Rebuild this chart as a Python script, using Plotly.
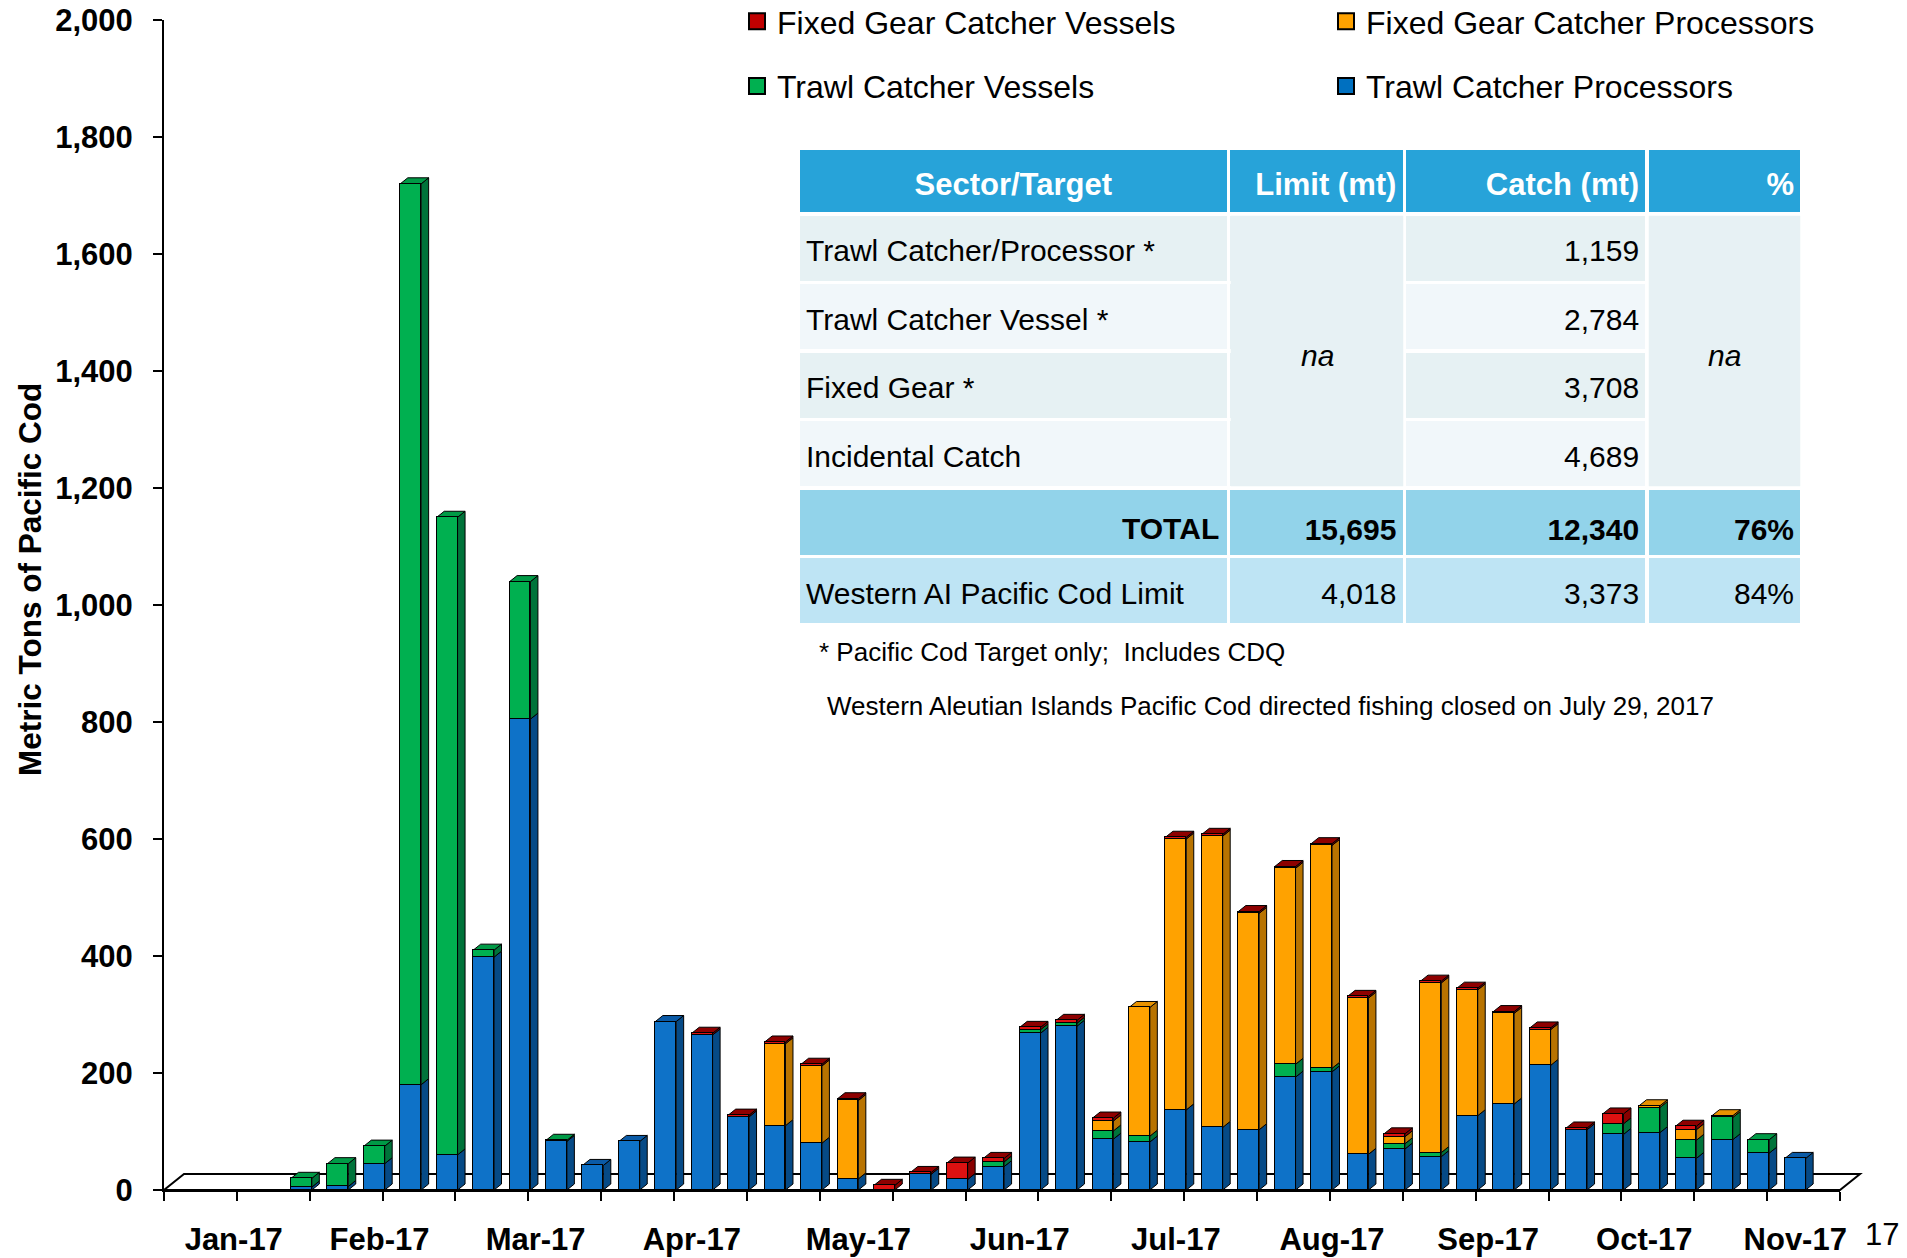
import plotly.graph_objects as go

# ---------------- data ----------------
WEEK_ENDING = [
    "2017-01-14", "2017-01-21", "2017-01-28", "2017-02-04", "2017-02-11", "2017-02-18",
    "2017-02-25", "2017-03-04", "2017-03-11", "2017-03-18", "2017-03-25", "2017-04-01",
    "2017-04-08", "2017-04-15", "2017-04-22", "2017-04-29", "2017-05-06", "2017-05-13",
    "2017-05-20", "2017-05-27", "2017-06-03", "2017-06-10", "2017-06-17", "2017-06-24",
    "2017-07-01", "2017-07-08", "2017-07-15", "2017-07-22", "2017-07-29", "2017-08-05",
    "2017-08-12", "2017-08-19", "2017-08-26", "2017-09-02", "2017-09-09", "2017-09-16",
    "2017-09-23", "2017-09-30", "2017-10-07", "2017-10-14", "2017-10-21", "2017-10-28",
]

TRAWL_CP = [5, 6, 45, 180, 60, 398, 805, 83, 42, 83, 288, 265, 125, 110, 80, 19, 0, 27,
            18, 40, 268, 280, 87, 82, 137, 107, 103, 193, 202, 61, 70, 57, 127, 147, 213,
            103, 95, 98, 54, 86, 63, 54]
TRAWL_CV = [15, 39, 30, 1540, 1090, 12, 235, 2, 0, 0, 0, 0, 0, 0, 0, 0, 0, 0,
            0, 8, 6, 5, 14, 10, 0, 0, 0, 22, 6, 0, 9, 7, 0, 0, 0,
            0, 18, 43, 31, 38, 23, 0]
FIXED_CP = [0, 0, 0, 0, 0, 0, 0, 0, 0, 0, 0, 0, 0, 140, 132, 134, 0, 0,
            0, 0, 0, 0, 17, 220, 463, 498, 370, 335, 381, 267, 12, 290, 215, 155, 61,
            0, 0, 3, 18, 3, 0, 0]
FIXED_CV = [0, 0, 0, 0, 0, 0, 0, 0, 0, 0, 0, 3, 3, 3, 3, 3, 8, 3,
            28, 6, 4, 5, 5, 0, 3, 3, 3, 3, 3, 3, 5, 3, 3, 3, 3,
            3, 17, 0, 6, 0, 0, 0]

MONTH_LABELS = ["Jan-17", "Feb-17", "Mar-17", "Apr-17", "May-17", "Jun-17",
                "Jul-17", "Aug-17", "Sep-17", "Oct-17", "Nov-17"]
MONTH_LABEL_DATES = ["2017-01-01", "2017-01-29", "2017-02-28", "2017-03-30", "2017-05-01",
                     "2017-06-01", "2017-07-01", "2017-07-31", "2017-08-30", "2017-09-29",
                     "2017-10-28"]

TABLE_HEADER = ["Sector/Target", "Limit (mt)", "Catch (mt)", "%"]
SECTORS = ["Trawl Catcher/Processor *", "Trawl Catcher Vessel *", "Fixed Gear *",
           "Incidental Catch", "TOTAL", "Western AI Pacific Cod Limit"]
LIMITS = ["", "", "", "", "15,695", "4,018"]
CATCHES = ["1,159", "2,784", "3,708", "4,689", "12,340", "3,373"]
PCTS = ["", "", "", "", "76%", "84%"]
MERGED_TEXT = "na"
TOTAL_ROW = 4

FOOTNOTE_1 = "* Pacific Cod Target only;  Includes CDQ"
FOOTNOTE_2 = "Western Aleutian Islands Pacific Cod directed fishing closed on July 29, 2017"

# ---------------- layout constants (pixels) ----------------
FIG_W, FIG_H = 1907, 1258
# reference frame used for the positions below
L, R, T, B = 164, 1840, 22, 1192
W, H = R - L, B - T
# actual placement of the plot area
SHIFT_X, SHIFT_Y = -8, -10
FONT = "Liberation Sans, Arial, sans-serif"


def px2x(px):
    return (px - L) / W


def px2y(py):
    return (B - py) / H


DAY_MS = 86400000
BAR_W_DAYS = 4.0
PX_PER_DAY = W / 322.0
HW = BAR_W_DAYS * PX_PER_DAY / 2
DX = 7.5
DY_UNITS = 6.0 * 2000 / H

SERIES = [
    ("Trawl Catcher Processors", TRAWL_CP, "#0E72C8", "#064A86", "#0A5AA6"),
    ("Trawl Catcher Vessels", TRAWL_CV, "#00B050", "#00733A", "#009A46"),
    ("Fixed Gear Catcher Processors", FIXED_CP, "#FFA200", "#B87300", "#E89200"),
    ("Fixed Gear Catcher Vessels", FIXED_CV, "#DD1111", "#880000", "#8E0000"),
]
LEGEND_COLORS = {
    "Fixed Gear Catcher Vessels": "#C00000",
    "Trawl Catcher Vessels": "#00B050",
    "Fixed Gear Catcher Processors": "#FFA200",
    "Trawl Catcher Processors": "#0070C0",
}

fig = go.Figure()

for name, vals, front, side, top in SERIES:
    fig.add_trace(go.Bar(
        x=WEEK_ENDING,
        y=[v if v > 0 else None for v in vals],
        width=BAR_W_DAYS * DAY_MS,
        marker=dict(color=front, line=dict(color="black", width=1.3)),
        name=name,
        showlegend=False,
    ))

# legend entries (two columns)
for name, leg, rank in [("Fixed Gear Catcher Vessels", "legend", 1),
                        ("Trawl Catcher Vessels", "legend", 2),
                        ("Fixed Gear Catcher Processors", "legend2", 1),
                        ("Trawl Catcher Processors", "legend2", 2)]:
    fig.add_trace(go.Scatter(
        x=[None], y=[None], mode="markers", name=name, legend=leg, legendrank=rank,
        legendgroup=name,
        marker=dict(symbol="square", size=16, color=LEGEND_COLORS[name],
                    line=dict(color="black", width=2)),
    ))

# pseudo-3D faces, derived from the stacked values
shapes = []
FDX, FDY = 20.0 / W, 16.0 / H
shapes.append(dict(type="path", xref="paper", yref="paper",
                   path=f"M0,0 L1,0 L{1 + FDX},{FDY} L{FDX},{FDY} Z",
                   fillcolor="white", line=dict(color="black", width=2), layer="below"))
for i, d in enumerate(WEEK_ENDING):
    base = 0.0
    top_col = None
    for name, vals, front, side, top in SERIES:
        v = vals[i]
        if v > 0:
            y0, y1 = base, base + v
            shapes.append(dict(
                type="path", xref="x", yref="y", xsizemode="pixel", xanchor=d,
                path=(f"M{HW:.2f},{y0:.2f} L{HW + DX:.2f},{y0 + DY_UNITS:.2f} "
                      f"L{HW + DX:.2f},{y1 + DY_UNITS:.2f} L{HW:.2f},{y1:.2f} Z"),
                fillcolor=side, line=dict(color="black", width=1), layer="below"))
            base = y1
            top_col = top
    if base > 0:
        shapes.append(dict(
            type="path", xref="x", yref="y", xsizemode="pixel", xanchor=d,
            path=(f"M{-HW:.2f},{base:.2f} L{-HW + DX:.2f},{base + DY_UNITS:.2f} "
                  f"L{HW + DX:.2f},{base + DY_UNITS:.2f} L{HW:.2f},{base:.2f} Z"),
            fillcolor=top_col, line=dict(color="black", width=1), layer="below"))

# ---------------- table ----------------
TBL_L, TBL_R, TBL_T = 798, 1802, 150
HDR_H, ROW_H = 66, 68.5
COLW = [431, 176, 243, 155]
ODD, EVEN, MERGE = "#E6F1F3", "#F1F7FA", "#E7F1F4"
TOTAL_FILL, WEST_FILL, HDR_FILL = "#92D3EA", "#BEE4F4", "#27A3D9"
alt = [ODD, EVEN, ODD, EVEN, TOTAL_FILL, WEST_FILL]
merged = [MERGE] * 4 + [TOTAL_FILL, WEST_FILL]
fills = [alt, merged, alt, merged]
LW = 3.5
n_rows = len(SECTORS)
tbl_h = HDR_H + ROW_H * n_rows

fig.add_trace(go.Table(
    domain=dict(x=[px2x(TBL_L), px2x(TBL_R)], y=[px2y(TBL_T + tbl_h + 10), px2y(TBL_T)]),
    columnwidth=COLW,
    header=dict(values=["", "", "", ""], height=HDR_H, fill_color=HDR_FILL,
                line=dict(color="white", width=LW)),
    cells=dict(values=[[""] * n_rows] * 4, height=ROW_H, fill_color=fills,
               line=dict(color="white", width=LW)),
))

# merged cells (Limit and % columns of the four sector rows)
m_top = TBL_T + HDR_H + LW / 2
m_bot = TBL_T + HDR_H + 4 * ROW_H - LW / 2
for c0, c1 in [(TBL_L + COLW[0], TBL_L + COLW[0] + COLW[1]), (TBL_R - COLW[3], TBL_R)]:
    shapes.append(dict(type="rect", xref="paper", yref="paper",
                       x0=px2x(c0 + LW / 2), x1=px2x(c1 - LW / 2),
                       y0=px2y(m_bot), y1=px2y(m_top),
                       fillcolor=MERGE, line=dict(width=0), layer="above"))

TEXT_SHIFT = 10.5   # text layer offset so the labels sit mid-cell
HDR_EXTRA = 6.0


def bold(s):
    return f"<b>{s}</b>" if s else s


col0 = ["" if k == TOTAL_ROW else s for k, s in enumerate(SECTORS)]
col1 = [bold(s) if k == TOTAL_ROW else s for k, s in enumerate(LIMITS)]
col2 = [bold(s) if k == TOTAL_ROW else s for k, s in enumerate(CATCHES)]
col3 = [bold(s) if k == TOTAL_ROW else s for k, s in enumerate(PCTS)]
fig.add_trace(go.Table(
    domain=dict(x=[px2x(TBL_L), px2x(TBL_R)],
                y=[px2y(TBL_T + TEXT_SHIFT + tbl_h + 30), px2y(TBL_T + TEXT_SHIFT)]),
    columnwidth=COLW,
    header=dict(values=[bold(h) for h in TABLE_HEADER], height=HDR_H + HDR_EXTRA,
                fill_color="rgba(0,0,0,0)", line=dict(width=0),
                align=["center", "right", "right", "right"],
                font=dict(family=FONT, size=31, color="white")),
    cells=dict(values=[col0, col1, col2, col3], height=ROW_H,
               fill_color="rgba(0,0,0,0)", line=dict(width=0),
               align=["left", "right", "right", "right"],
               font=dict(family=FONT, size=30, color="black")),
))

merge_y = TBL_T + HDR_H + 2 * ROW_H
total_y = TBL_T + HDR_H + TOTAL_ROW * ROW_H + ROW_H / 2 + 6.5
annotations = [
    dict(text=bold(SECTORS[TOTAL_ROW]), xref="paper", yref="paper",
         x=px2x(TBL_L + COLW[0] - 8), y=px2y(total_y), showarrow=False,
         xanchor="right", yanchor="middle", font=dict(family=FONT, size=30, color="black")),
    dict(text=f"<i>{MERGED_TEXT}</i>", xref="paper", yref="paper",
         x=px2x(TBL_L + COLW[0] + COLW[1] / 2), y=px2y(merge_y + 4), showarrow=False,
         xanchor="center", yanchor="middle", font=dict(family=FONT, size=30, color="black")),
    dict(text=f"<i>{MERGED_TEXT}</i>", xref="paper", yref="paper",
         x=px2x(TBL_R - COLW[3] / 2), y=px2y(merge_y + 4), showarrow=False,
         xanchor="center", yanchor="middle", font=dict(family=FONT, size=30, color="black")),
    dict(text=FOOTNOTE_1, xref="paper", yref="paper", x=px2x(817), y=px2y(654),
         xanchor="left", yanchor="middle", showarrow=False,
         font=dict(family=FONT, size=26, color="black")),
    dict(text=FOOTNOTE_2, xref="paper", yref="paper", x=px2x(825), y=px2y(708),
         xanchor="left", yanchor="middle", showarrow=False,
         font=dict(family=FONT, size=26, color="black")),
    dict(text="<b>Metric Tons of Pacific Cod</b>", xref="paper", yref="paper",
         x=px2x(30), y=px2y(582), textangle=-90, xanchor="center", yanchor="middle",
         showarrow=False, font=dict(family=FONT, size=31.5, color="black")),
    dict(text="17", xref="paper", yref="paper", x=px2x(1882), y=px2y(1236),
         xanchor="center", yanchor="middle", showarrow=False,
         font=dict(family=FONT, size=31, color="black")),
]

fig.update_layout(
    width=FIG_W, height=FIG_H,
    margin=dict(l=L + SHIFT_X, r=FIG_W - R - SHIFT_X, t=T + SHIFT_Y, b=FIG_H - B - SHIFT_Y,
                autoexpand=False),
    paper_bgcolor="white", plot_bgcolor="white",
    barmode="stack", bargap=0,
    shapes=shapes, annotations=annotations,
    xaxis=dict(
        type="date", range=["2016-12-18 14:24:00", "2017-11-05 14:24:00"],
        showline=True, linecolor="black", linewidth=2, showgrid=False, zeroline=False,
        ticks="", tickmode="array", tickvals=MONTH_LABEL_DATES, ticktext=MONTH_LABELS,
        tickfont=dict(family=FONT, size=31, color="black", weight="bold"),
        ticklabelstandoff=21, automargin=False, ticklabeloverflow="allow",
        minor=dict(ticks="outside", ticklen=9, tickwidth=2, tickcolor="black",
                   tickmode="linear", tick0="2016-12-18 14:24:00", dtick=14 * DAY_MS,
                   showgrid=False),
    ),
    yaxis=dict(
        range=[0, 2000], dtick=200, tickformat=",d", showline=True, linecolor="black",
        linewidth=2, ticks="outside", ticklen=9, tickwidth=2, tickcolor="black",
        showgrid=False, zeroline=False, automargin=False, ticklabelstandoff=14,
        ticklabeloverflow="allow",
        tickfont=dict(family=FONT, size=31, color="black", weight="bold"),
    ),
    legend=dict(x=px2x(737), xanchor="left", y=px2y(-4), yanchor="top",
                font=dict(family=FONT, size=32, color="black"), bgcolor="rgba(0,0,0,0)",
                traceorder="grouped", tracegroupgap=20, itemclick=False),
    legend2=dict(x=px2x(1326), xanchor="left", y=px2y(-4), yanchor="top",
                 font=dict(family=FONT, size=32, color="black"), bgcolor="rgba(0,0,0,0)",
                 traceorder="grouped", tracegroupgap=20, itemclick=False),
    showlegend=True,
)

fig.write_html("out.html")
